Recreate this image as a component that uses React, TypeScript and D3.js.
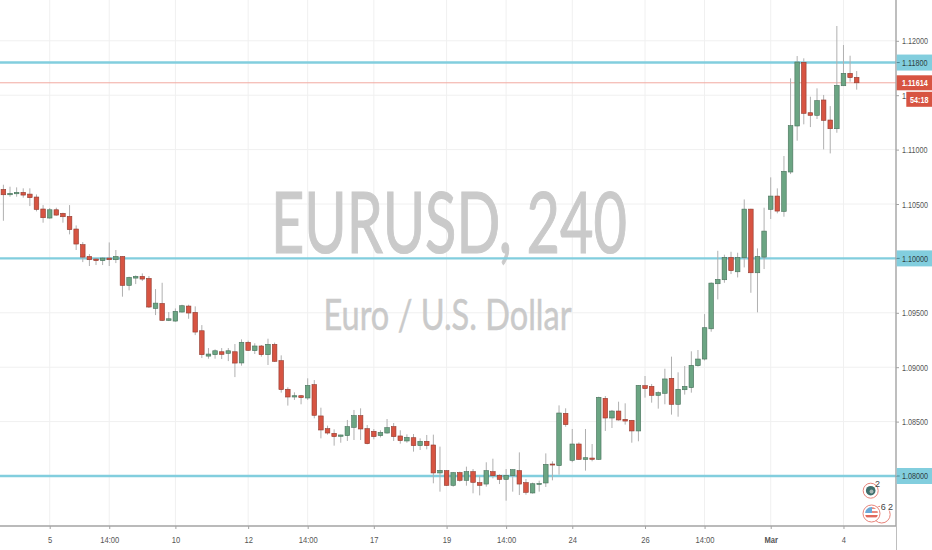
import { useEffect, useRef } from 'react'
import * as d3 from 'd3'

const opens = [1.10634,1.10585,1.10594,1.10607,1.10591,1.10564,1.10454,1.10371,1.10447,1.10414,1.10386,1.10270,1.10126,1.10018,1.09994,1.09979,1.10003,1.09988,1.10018,1.09752,1.09819,1.09835,1.09816,1.09540,1.09586,1.09430,1.09424,1.09507,1.09562,1.09504,1.09335,1.09102,1.09115,1.09142,1.09127,1.09142,1.09039,1.09229,1.09152,1.09195,1.09115,1.09210,1.09060,1.08797,1.08726,1.08738,1.08717,1.08840,1.08552,1.08435,1.08392,1.08365,1.08371,1.08447,1.08555,1.08435,1.08411,1.08371,1.08395,1.08454,1.08368,1.08322,1.08352,1.08279,1.08319,1.08285,1.08028,1.08049,1.07914,1.08031,1.07960,1.08040,1.07939,1.07926,1.08040,1.08006,1.07969,1.08003,1.08049,1.07939,1.07844,1.07923,1.07936,1.08110,1.08095,1.08576,1.08144,1.08294,1.08153,1.08165,1.08153,1.08714,1.08533,1.08597,1.08521,1.08512,1.08414,1.08830,1.08824,1.08741,1.08760,1.08898,1.08659,1.08793,1.08812,1.09014,1.09075,1.09353,1.09767,1.09804,1.10009,1.09877,1.10006,1.10453,1.09868,1.10012,1.10451,1.10573,1.10432,1.10794,1.11217,1.11802,1.11339,1.11315,1.11456,1.11272,1.11192,1.11587,1.11701,1.11664]
const closes = [1.10585,1.10598,1.10607,1.10582,1.10558,1.10450,1.10374,1.10447,1.10398,1.10383,1.10264,1.10132,1.10012,1.09988,1.09979,1.10003,1.09988,1.10018,1.09752,1.09825,1.09835,1.09810,1.09553,1.09589,1.09430,1.09445,1.09513,1.09565,1.09498,1.09323,1.09115,1.09121,1.09151,1.09118,1.09151,1.09038,1.09229,1.09155,1.09195,1.09115,1.09210,1.09054,1.08794,1.08726,1.08738,1.08720,1.08833,1.08558,1.08423,1.08395,1.08362,1.08377,1.08454,1.08555,1.08432,1.08297,1.08362,1.08401,1.08444,1.08362,1.08325,1.08355,1.08279,1.08319,1.08279,1.08028,1.08052,1.07914,1.08031,1.07960,1.08040,1.07942,1.07914,1.08049,1.08003,1.07969,1.08006,1.08058,1.07926,1.07850,1.07929,1.07932,1.08107,1.08104,1.08579,1.08472,1.08294,1.08153,1.08168,1.08153,1.08723,1.08533,1.08597,1.08515,1.08505,1.08414,1.08833,1.08803,1.08741,1.08766,1.08892,1.08659,1.08797,1.08824,1.09017,1.09075,1.09363,1.09773,1.09807,1.10009,1.09887,1.10009,1.10453,1.09868,1.10018,1.10251,1.10573,1.10435,1.10800,1.11220,1.11805,1.11333,1.11315,1.11450,1.11269,1.11192,1.11590,1.11701,1.11661,1.11614]
const highs = [1.10677,1.10659,1.10653,1.10644,1.10644,1.10588,1.10490,1.10463,1.10466,1.10420,1.10490,1.10303,1.10150,1.10040,1.10003,1.10009,1.10147,1.10077,1.10021,1.09832,1.09844,1.09862,1.09838,1.09718,1.09776,1.09507,1.09540,1.09574,1.09574,1.09559,1.09387,1.09176,1.09164,1.09176,1.09176,1.09213,1.09256,1.09244,1.09220,1.09204,1.09262,1.09226,1.09109,1.08815,1.08769,1.08745,1.08898,1.08882,1.08628,1.08463,1.08429,1.08380,1.08515,1.08607,1.08622,1.08469,1.08432,1.08420,1.08524,1.08487,1.08420,1.08383,1.08386,1.08346,1.08377,1.08380,1.08270,1.08055,1.08037,1.08040,1.08086,1.08064,1.08000,1.08126,1.08159,1.08015,1.08064,1.08061,1.08217,1.07972,1.07939,1.07957,1.08208,1.08135,1.08649,1.08622,1.08432,1.08309,1.08432,1.08294,1.08729,1.08735,1.08607,1.08683,1.08668,1.08515,1.08836,1.08919,1.08846,1.08778,1.08986,1.09097,1.08953,1.09011,1.09146,1.09158,1.09488,1.09779,1.10070,1.10034,1.10061,1.10052,1.10542,1.10456,1.10092,1.10466,1.10745,1.10644,1.10941,1.11655,1.11860,1.11839,1.11486,1.11563,1.11502,1.11400,1.12136,1.11961,1.11863,1.11722]
const lows = [1.10346,1.10567,1.10567,1.10558,1.10481,1.10432,1.10328,1.10365,1.10392,1.10328,1.10221,1.10077,1.09966,1.09930,1.09939,1.09939,1.09930,1.09957,1.09648,1.09706,1.09764,1.09792,1.09544,1.09479,1.09424,1.09424,1.09418,1.09501,1.09445,1.09295,1.09084,1.09078,1.09078,1.09075,1.09056,1.08909,1.09014,1.09149,1.09121,1.09097,1.09020,1.09048,1.08766,1.08647,1.08699,1.08659,1.08699,1.08530,1.08346,1.08380,1.08279,1.08306,1.08322,1.08331,1.08331,1.08291,1.08337,1.08355,1.08389,1.08322,1.08297,1.08306,1.08224,1.08239,1.08245,1.07933,1.07856,1.07908,1.07902,1.07948,1.07911,1.07841,1.07822,1.07902,1.07978,1.07926,1.07773,1.07856,1.07825,1.07828,1.07838,1.07856,1.07899,1.07960,1.08012,1.08453,1.08126,1.08147,1.08049,1.08135,1.08147,1.08414,1.08441,1.08509,1.08472,1.08306,1.08319,1.08720,1.08674,1.08619,1.08659,1.08564,1.08545,1.08748,1.08766,1.09005,1.09062,1.09326,1.09623,1.09776,1.09856,1.09825,1.09917,1.09684,1.09504,1.09902,1.10362,1.10414,1.10383,1.10775,1.11082,1.11232,1.11207,1.11281,1.11002,1.10965,1.11155,1.11584,1.11624,1.11551]

const priceTicks = [1.08, 1.085, 1.09, 1.095, 1.1, 1.105, 1.11, 1.115, 1.12]
const levels = [1.118, 1.1, 1.08]
const lastPrice = 1.11614
const countdown = '54:18'
const timeIndexes = [7, 16, 26, 37, 46, 56, 67, 76, 86, 97, 106, 116, 127]
const timeLabels = ['5', '14:00', '10', '12', '14:00', '17', '19', '14:00', '24', '26', '14:00', 'Mar', '4']

const UP = '#6ba583'
const DOWN = '#d75442'
const LEVEL = '#82cede'
const AXIS = '#a3a3a3'
const FONT = "'Liberation Sans', Arial, sans-serif"
const MARK_FONT = "Lato, 'Noto Sans', sans-serif"
const SQUEEZE = 0.76

export default function App() {
  const svgRef = useRef<SVGSVGElement>(null)

  useEffect(() => {
    if (!svgRef.current) return
    const svg = d3.select(svgRef.current)
    svg.selectAll('*').remove()

    const paneW = 896
    const paneH = 526
    const x = d3.scaleLinear().domain([0, 129]).range([3.4, 856.7])
    const y = d3.scaleLinear().domain([1.08, 1.12]).range([476, 40.8])

    svg.append('rect').attr('width', 932).attr('height', 550).attr('fill', '#ffffff')

    // grid
    const grid = svg.append('g').attr('stroke', '#f0f0f0').attr('stroke-width', 1)
    grid.selectAll('.v').data(timeIndexes).enter().append('line')
      .attr('x1', d => x(d)).attr('x2', d => x(d)).attr('y1', 0).attr('y2', paneH)
    grid.selectAll('.h').data(priceTicks).enter().append('line')
      .attr('x1', 0).attr('x2', paneW).attr('y1', d => y(d)).attr('y2', d => y(d))

    // watermark
    svg.append('text').attr('x', 271).attr('y', 252.5)
      .attr('textLength', 356).attr('lengthAdjust', 'spacingAndGlyphs')
      .style('font-family', MARK_FONT)
      .style('font-size', '86px').style('fill', '#cacaca')
      .style('stroke', '#cacaca').style('stroke-width', '1.2px').text('EURUSD, 240')
    svg.append('text').attr('x', 323.5).attr('y', 329.5)
      .attr('textLength', 248).attr('lengthAdjust', 'spacingAndGlyphs')
      .style('font-family', MARK_FONT)
      .style('font-size', '42px').style('fill', '#cacaca')
      .style('stroke', '#cacaca').style('stroke-width', '0.5px').text('Euro / U.S. Dollar')

    // levels and last price line
    svg.append('g').selectAll('line').data(levels).enter().append('line')
      .attr('x1', 0).attr('x2', paneW).attr('y1', d => y(d)).attr('y2', d => y(d))
      .attr('stroke', LEVEL).attr('stroke-width', 2.4)
    svg.append('line').attr('x1', 0).attr('x2', paneW)
      .attr('y1', y(lastPrice)).attr('y2', y(lastPrice))
      .attr('stroke', '#f2a9a0').attr('stroke-width', 1)

    // candles
    const idx = d3.range(opens.length)
    const candles = svg.append('g')
    candles.selectAll('.wick').data(idx).enter().append('line')
      .attr('x1', i => x(i)).attr('x2', i => x(i))
      .attr('y1', i => y(highs[i])).attr('y2', i => y(lows[i]))
      .attr('stroke', '#b0b0b0').attr('stroke-width', 1)
    candles.selectAll('.body').data(idx).enter().append('rect')
      .attr('x', i => x(i) - 2.3).attr('width', 4.6)
      .attr('y', i => y(Math.max(opens[i], closes[i])))
      .attr('height', i => Math.max(1, Math.abs(y(opens[i]) - y(closes[i]))))
      .attr('fill', i => (closes[i] >= opens[i] ? UP : DOWN))
      .attr('stroke', i => (closes[i] >= opens[i] ? '#47705a' : '#8f3a2f'))
      .attr('stroke-width', 0.6)

    // price axis
    svg.append('rect').attr('x', paneW).attr('width', 36).attr('height', 550).attr('fill', '#ffffff')
    svg.append('line').attr('x1', paneW).attr('x2', paneW).attr('y1', 0).attr('y2', 550)
      .attr('stroke', AXIS).attr('stroke-width', 1.4)
    const yAxis = d3.axisRight(y).tickValues(priceTicks).tickSize(3).tickPadding(3)
      .tickFormat(d => (d as number).toFixed(5))
    const yg = svg.append('g').attr('transform', `translate(${paneW},0)`).call(yAxis)
    yg.select('.domain').remove()
    yg.selectAll('line').attr('stroke', AXIS)
    // the labels are narrower than any installed font, so squeeze them horizontally
    yg.selectAll('text').style('font-family', FONT).style('font-size', '9.5px').style('fill', '#555555')
      .attr('x', 0).attr('transform', `translate(6,0) scale(${SQUEEZE},1)`)

    // price labels
    const labels = svg.append('g')
    const priceLabel = (px: number, py: number, txt: string, fill: string, bold: boolean) => {
      labels.append('text').attr('transform', `translate(${px},${py}) scale(${SQUEEZE},1)`)
        .style('font-family', FONT).style('font-size', '9.5px')
        .style('font-weight', bold ? 'bold' : 'normal').style('fill', fill).text(txt)
    }
    levels.forEach(l => {
      labels.append('rect').attr('x', paneW + 0.7).attr('y', y(l) - 8).attr('width', 36).attr('height', 16).attr('fill', LEVEL)
      labels.append('line').attr('x1', paneW + 0.7).attr('x2', paneW + 3.7).attr('y1', y(l)).attr('y2', y(l)).attr('stroke', '#4d8894')
      priceLabel(902, y(l) + 3.2, l.toFixed(5), '#2f3f42', false)
    })
    labels.append('rect').attr('x', paneW + 0.7).attr('y', y(lastPrice) - 7.5).attr('width', 36).attr('height', 15).attr('fill', DOWN)
    priceLabel(902, y(lastPrice) + 3.2, lastPrice.toFixed(5), '#ffffff', true)
    labels.append('rect').attr('x', 906.3).attr('y', y(lastPrice) + 9).attr('width', 26).attr('height', 15).attr('fill', DOWN)
    priceLabel(910, y(lastPrice) + 19.8, countdown, '#ffffff', true)

    // time axis
    svg.append('rect').attr('y', paneH).attr('width', paneW).attr('height', 24).attr('fill', '#ffffff')
    const xAxis = d3.axisBottom(x).tickValues(timeIndexes).tickSize(3).tickPadding(7)
      .tickFormat((_, i) => timeLabels[i])
    const xg = svg.append('g').attr('transform', `translate(0,${paneH})`).call(xAxis)
    xg.select('.domain').remove()
    xg.selectAll('line').attr('stroke', AXIS)
    xg.selectAll('text').style('font-family', FONT).style('font-size', '9.5px').style('fill', '#555555')
      .attr('transform', 'scale(0.8,1)')
    xg.selectAll('text').filter((_, i) => timeLabels[i] === 'Mar').style('font-weight', 'bold')
    svg.append('line').attr('x1', 0).attr('x2', paneW).attr('y1', paneH).attr('y2', paneH)
      .attr('stroke', AXIS).attr('stroke-width', 1.4)

    // economic event markers
    const events = svg.append('g')
    const ring = (cx: number, cy: number, r: number) => {
      events.append('circle').attr('cx', cx).attr('cy', cy).attr('r', r)
        .attr('fill', '#ffffff').attr('stroke', '#e8837a').attr('stroke-width', 1)
    }
    ring(870.7, 490.7, 7.5)
    events.append('circle').attr('cx', 870.7).attr('cy', 490.7).attr('r', 4.8).attr('fill', '#3f6f6c')
    events.append('circle').attr('cx', 871.5).attr('cy', 491.5).attr('r', 2).attr('fill', '#a3b5b3')
    ring(881.7, 514.5, 8.5)
    ring(871.5, 513.5, 8.5)
    svg.append('defs').append('clipPath').attr('id', 'usflag').append('circle')
      .attr('cx', 871.5).attr('cy', 513.5).attr('r', 6.5)
    const flag = events.append('g').attr('clip-path', 'url(#usflag)')
    flag.append('rect').attr('x', 865).attr('y', 507).attr('width', 7).attr('height', 6).attr('fill', '#6ba9d8')
    flag.append('rect').attr('x', 872).attr('y', 507).attr('width', 8).attr('height', 2).attr('fill', '#e98a80')
    flag.append('rect').attr('x', 872).attr('y', 511).attr('width', 8).attr('height', 2).attr('fill', '#e98a80')
    flag.append('rect').attr('x', 865).attr('y', 515).attr('width', 14).attr('height', 2.4).attr('fill', '#e0685c')
    events.append('rect').attr('x', 880).attr('y', 502).attr('width', 13).attr('height', 8.5).attr('fill', '#ffffff')
    events.append('text').attr('x', 875).attr('y', 487).text('2')
    events.append('text').attr('x', 880.8).attr('y', 509.5).text('6')
    events.append('text').attr('x', 888).attr('y', 509.5).text('2')
    events.selectAll('text').style('font-family', FONT).style('font-size', '9px').style('fill', '#444444')
  }, [])

  return <svg ref={svgRef} width={932} height={550} style={{ position: 'fixed', left: 0, top: 0 }} />
}
